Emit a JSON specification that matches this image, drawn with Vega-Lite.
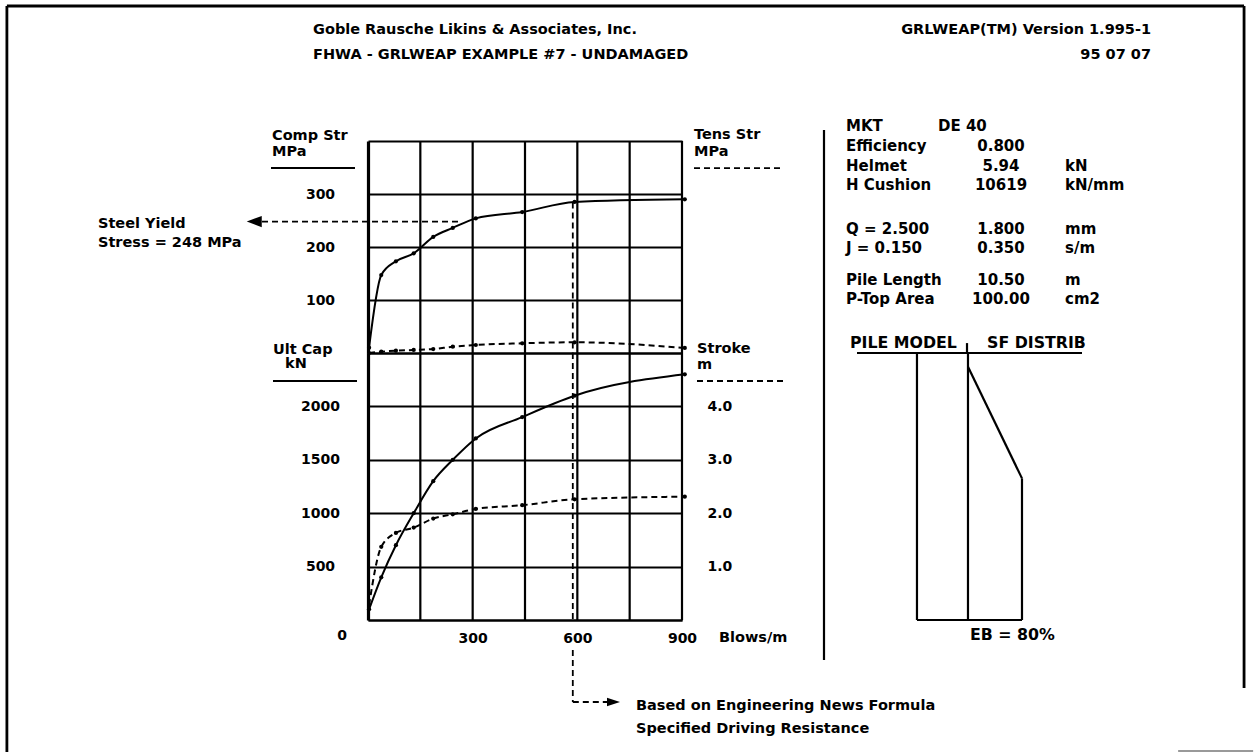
{
  "$schema": "https://vega.github.io/schema/vega-lite/v6.json",
  "width": 314,
  "height": 479,
  "autosize": {"type": "none"},
  "padding": {"left": 368, "top": 141, "right": 574, "bottom": 132},
  "background": "white",
  "config": {
    "view": {"stroke": null},
    "axis": {
      "labelFont": "DejaVu Sans",
      "labelFontWeight": "bold",
      "labelFontSize": 14,
      "labelColor": "black",
      "labelBaseline": "middle",
      "labelFlush": false,
      "labelOverlap": false,
      "ticks": false,
      "tickSize": 0,
      "gridColor": "black",
      "gridOpacity": 1,
      "gridWidth": 2.2,
      "domainColor": "black",
      "domainWidth": 2.2
    }
  },
  "datasets": {
    "perf": [
      {"b": 3, "rult": 100, "stroke": 0.28, "comp": 10, "tens": 0},
      {"b": 38, "rult": 400, "stroke": 1.37, "comp": 147, "tens": 2.5},
      {"b": 80, "rult": 700, "stroke": 1.63, "comp": 173, "tens": 4.3},
      {"b": 131, "rult": 1000, "stroke": 1.73, "comp": 188, "tens": 5.7},
      {"b": 187, "rult": 1300, "stroke": 1.9, "comp": 219, "tens": 7.5},
      {"b": 243, "rult": 1500, "stroke": 1.98, "comp": 236, "tens": 11.9},
      {"b": 309, "rult": 1700, "stroke": 2.08, "comp": 254, "tens": 15.1},
      {"b": 442, "rult": 1900, "stroke": 2.15, "comp": 266, "tens": 18.3},
      {"b": 592, "rult": 2100, "stroke": 2.26, "comp": 285, "tens": 20.2},
      {"b": 908, "rult": 2300, "stroke": 2.31, "comp": 290, "tens": 9.5}
    ],
    "xgrid": [
      {"b": 150}, {"b": 300}, {"b": 450}, {"b": 600}, {"b": 750}, {"b": 900}
    ],
    "mpaLabels": [
      {"t": "Goble Rausche Likins & Associates, Inc.", "b": -157.6, "v": 609.4},
      {"t": "FHWA - GRLWEAP EXAMPLE #7 - UNDAMAGED", "b": -157.6, "v": 562.3},
      {"t": "Comp Str", "b": -275.2, "v": 409.4},
      {"t": "MPa", "b": -275.2, "v": 379.2},
      {"t": "Tens Str", "b": 934.4, "v": 411.3},
      {"t": "MPa", "b": 934.4, "v": 379.2},
      {"t": "Steel Yield", "b": -773.9, "v": 243.4},
      {"t": "Stress = 248 MPa", "b": -773.9, "v": 207.5}
    ],
    "mpaRight": [
      {"t": "GRLWEAP(TM) Version 1.995-1", "b": 2244.3, "v": 609.4},
      {"t": "95 07 07", "b": 2244.3, "v": 562.3}
    ],
    "hammerText": [
      {"t": "MKT", "b": 1370.1, "v": 428.3},
      {"t": "DE 40", "b": 1633.8, "v": 428.3},
      {"t": "Efficiency", "b": 1370.1, "v": 390.6},
      {"t": "Helmet", "b": 1370.1, "v": 352.8},
      {"t": "kN", "b": 1997.8, "v": 352.8},
      {"t": "H Cushion", "b": 1370.1, "v": 317.0},
      {"t": "kN/mm", "b": 1997.8, "v": 317.0},
      {"t": "Q = 2.500", "b": 1370.1, "v": 234.0},
      {"t": "mm", "b": 1997.8, "v": 234.0},
      {"t": "J  = 0.150", "b": 1370.1, "v": 198.1},
      {"t": "s/m", "b": 1997.8, "v": 198.1},
      {"t": "Pile Length", "b": 1370.1, "v": 137.7},
      {"t": "m", "b": 1997.8, "v": 137.7},
      {"t": "P-Top Area", "b": 1370.1, "v": 101.9},
      {"t": "cm2", "b": 1997.8, "v": 101.9}
    ],
    "hammerValues": [
      {"t": "0.800", "b": 1814.3, "v": 390.6},
      {"t": "5.94", "b": 1814.3, "v": 352.8},
      {"t": "10619", "b": 1814.3, "v": 317.0},
      {"t": "1.800", "b": 1814.3, "v": 234.0},
      {"t": "0.350", "b": 1814.3, "v": 198.1},
      {"t": "10.50", "b": 1814.3, "v": 137.7},
      {"t": "100.00", "b": 1814.3, "v": 101.9}
    ],
    "knLabels": [
      {"t": "Ult Cap", "b": -272.3, "v": 2528.1},
      {"t": "kN", "b": -237.9, "v": 2397.0},
      {"t": "Stroke", "b": 943.0, "v": 2537.5},
      {"t": "m", "b": 943.0, "v": 2387.6},
      {"t": "Blows/m", "b": 1006.0, "v": -168.5},
      {"t": "Based on Engineering News Formula", "b": 768.2, "v": -805.2},
      {"t": "Specified Driving Resistance", "b": 768.2, "v": -1020.6}
    ],
    "pileText": [
      {"t": "PILE MODEL", "b": 1381.5, "v": 2593.6},
      {"t": "SF DISTRIB", "b": 1774.2, "v": 2593.6},
      {"t": "EB = 80%", "b": 1725.5, "v": -140.4}
    ],
    "knZero": [
      {"t": "0", "b": -74.5, "v": -149.8}
    ],
    "mpaSolid": [
      {"b": -278.0, "b2": -37.3, "v": 349, "v2": 349}
    ],
    "mpaDash": [
      {"b": 934.4, "b2": 1180.9, "v": 349, "v2": 349},
      {"b": -303.8, "b2": 262, "v": 248, "v2": 248},
      {"b": 587, "b2": 587, "v": 284, "v2": 0}
    ],
    "knSolid": [
      {"b": -272.3, "b2": -31.5, "v": 2237.8, "v2": 2237.8},
      {"b": 1307, "b2": 1307, "v": 4588, "v2": -374.5}
    ],
    "knDash": [
      {"b": 943.0, "b2": 1189.5, "v": 2237.8, "v2": 2237.8},
      {"b": 587, "b2": 587, "v": 2500, "v2": 0},
      {"b": 587, "b2": 587, "v": -280.9, "v2": -767.8},
      {"b": 587, "b2": 687.9, "v": -767.8, "v2": -767.8}
    ],
    "frame": [
      {"b": -1035, "b2": 2511, "v": 5749, "v2": 5749},
      {"b": -1035, "b2": -1035, "v": 5749, "v2": -1400},
      {"b": 2511, "b2": 2511, "v": 5749, "v2": -637}
    ],
    "frameEdge": [
      {"b": 2322, "b2": 2537, "v": -1226, "v2": -1226}
    ],
    "pile": [
      {"b": 1401.6, "b2": 2046.5, "v": 0, "v2": 0},
      {"b": 1716.9, "b2": 1716.9, "v": -0.39, "v2": 0},
      {"b": 1573.5, "b2": 1573.5, "v": 0, "v2": 10.5},
      {"b": 1719.7, "b2": 1719.7, "v": 0, "v2": 10.5},
      {"b": 1719.7, "b2": 1874.5, "v": 0.54, "v2": 4.93},
      {"b": 1874.5, "b2": 1874.5, "v": 4.93, "v2": 10.5},
      {"b": 1573.5, "b2": 1874.5, "v": 10.5, "v2": 10.5}
    ],
    "mpaArrow": [{"b": -326, "v": 248}],
    "knArrow": [{"b": 703.7, "v": -767.8}]
  },
  "encoding": {
    "x": {
      "field": "b",
      "type": "quantitative",
      "scale": {"domain": [0, 900], "nice": false, "zero": false},
      "axis": {
        "orient": "bottom",
        "title": null,
        "values": [0, 150, 300, 450, 600, 750, 900],
        "labelExpr": "(datum.value == 300 || datum.value == 600 || datum.value == 900) ? datum.label : ''",
        "labelPadding": 18,
        "labelAlign": "center",
        "grid": false,
        "domain": true
      }
    }
  },
  "layer": [
    {
      "data": {"name": "xgrid"},
      "mark": {"type": "rule", "color": "black", "strokeWidth": 2.2},
      "encoding": {}
    },
    {
      "data": {"name": "perf"},
      "mark": {"type": "line", "interpolate": "monotone", "color": "black", "strokeWidth": 2, "point": {"filled": true, "fill": "black", "size": 18}},
      "encoding": {
        "y": {
          "field": "comp",
          "type": "quantitative",
          "scale": {"domain": [0, 400], "range": [212, 0], "nice": false, "zero": false},
          "axis": {
            "orient": "left",
            "title": null,
            "values": [0, 100, 200, 300, 400],
            "labelExpr": "(datum.value >= 100 && datum.value <= 300) ? datum.label : ''",
            "labelAlign": "center",
            "labelPadding": 48,
            "grid": true,
            "domain": true,
            "domainWidth": 3.2
          }
        }
      }
    },
    {
      "data": {"name": "perf"},
      "mark": {"type": "line", "interpolate": "monotone", "color": "black", "strokeWidth": 2, "strokeDash": [6, 4], "point": {"filled": true, "fill": "black", "size": 18}},
      "encoding": {
        "y": {"field": "tens", "type": "quantitative", "scale": {"domain": [0, 400], "range": [212, 0], "nice": false, "zero": false}, "axis": null}
      }
    },
    {
      "data": {"name": "perf"},
      "mark": {"type": "line", "interpolate": "monotone", "color": "black", "strokeWidth": 2, "point": {"filled": true, "fill": "black", "size": 18}},
      "encoding": {
        "y": {
          "field": "rult",
          "type": "quantitative",
          "scale": {"domain": [0, 2500], "range": [479, 212], "nice": false, "zero": false},
          "axis": {
            "orient": "left",
            "title": null,
            "values": [0, 500, 1000, 1500, 2000, 2500],
            "labelExpr": "(datum.value >= 500 && datum.value <= 2000) ? datum.label : ''",
            "format": "d",
            "labelAlign": "center",
            "labelPadding": 48,
            "grid": true,
            "domain": true,
            "domainWidth": 3.2
          }
        }
      }
    },
    {
      "data": {"name": "perf"},
      "mark": {"type": "line", "interpolate": "monotone", "color": "black", "strokeWidth": 2, "strokeDash": [6, 4], "point": {"filled": true, "fill": "black", "size": 18}},
      "encoding": {
        "y": {
          "field": "stroke",
          "type": "quantitative",
          "scale": {"domain": [0, 5], "range": [479, 212], "nice": false, "zero": false},
          "axis": {
            "orient": "right",
            "title": null,
            "values": [1, 2, 3, 4],
            "format": ".1f",
            "labelAlign": "left",
            "labelPadding": 25,
            "grid": false,
            "domain": false
          }
        }
      }
    },
    {
      "data": {"name": "mpaSolid"},
      "mark": {"type": "rule", "color": "black", "strokeWidth": 2},
      "encoding": {
        "x2": {"field": "b2"},
        "y": {"field": "v", "type": "quantitative", "scale": {"domain": [0, 400], "range": [212, 0], "nice": false, "zero": false}, "axis": null},
        "y2": {"field": "v2"}
      }
    },
    {
      "data": {"name": "mpaDash"},
      "mark": {"type": "rule", "color": "black", "strokeWidth": 1.8, "strokeDash": [6, 4]},
      "encoding": {
        "x2": {"field": "b2"},
        "y": {"field": "v", "type": "quantitative", "scale": {"domain": [0, 400], "range": [212, 0], "nice": false, "zero": false}, "axis": null},
        "y2": {"field": "v2"}
      }
    },
    {
      "data": {"name": "knSolid"},
      "mark": {"type": "rule", "color": "black", "strokeWidth": 2.2},
      "encoding": {
        "x2": {"field": "b2"},
        "y": {"field": "v", "type": "quantitative", "scale": {"domain": [0, 2500], "range": [479, 212], "nice": false, "zero": false}, "axis": null},
        "y2": {"field": "v2"}
      }
    },
    {
      "data": {"name": "knDash"},
      "mark": {"type": "rule", "color": "black", "strokeWidth": 1.8, "strokeDash": [6, 4]},
      "encoding": {
        "x2": {"field": "b2"},
        "y": {"field": "v", "type": "quantitative", "scale": {"domain": [0, 2500], "range": [479, 212], "nice": false, "zero": false}, "axis": null},
        "y2": {"field": "v2"}
      }
    },
    {
      "data": {"name": "frame"},
      "mark": {"type": "rule", "color": "black", "strokeWidth": 2.8},
      "encoding": {
        "x2": {"field": "b2"},
        "y": {"field": "v", "type": "quantitative", "scale": {"domain": [0, 2500], "range": [479, 212], "nice": false, "zero": false}, "axis": null},
        "y2": {"field": "v2"}
      }
    },
    {
      "data": {"name": "frameEdge"},
      "mark": {"type": "rule", "color": "#777777", "strokeWidth": 1.5},
      "encoding": {
        "x2": {"field": "b2"},
        "y": {"field": "v", "type": "quantitative", "scale": {"domain": [0, 2500], "range": [479, 212], "nice": false, "zero": false}, "axis": null},
        "y2": {"field": "v2"}
      }
    },
    {
      "data": {"name": "pile"},
      "mark": {"type": "rule", "color": "black", "strokeWidth": 2.2},
      "encoding": {
        "x2": {"field": "b2"},
        "y": {"field": "v", "type": "quantitative", "scale": {"domain": [0, 10.5], "range": [212, 479], "nice": false, "zero": false}, "axis": null},
        "y2": {"field": "v2"}
      }
    },
    {
      "data": {"name": "mpaArrow"},
      "mark": {"type": "point", "shape": "M-1,0L1,-0.75L1,0.75Z", "size": 225, "filled": true, "color": "black", "opacity": 1},
      "encoding": {
        "y": {"field": "v", "type": "quantitative", "scale": {"domain": [0, 400], "range": [212, 0], "nice": false, "zero": false}, "axis": null}
      }
    },
    {
      "data": {"name": "knArrow"},
      "mark": {"type": "point", "shape": "M1,0L-1,-0.65L-1,0.65Z", "size": 169, "filled": true, "color": "black", "opacity": 1},
      "encoding": {
        "y": {"field": "v", "type": "quantitative", "scale": {"domain": [0, 2500], "range": [479, 212], "nice": false, "zero": false}, "axis": null}
      }
    },
    {
      "data": {"name": "mpaLabels"},
      "mark": {"type": "text", "align": "left", "baseline": "middle", "font": "DejaVu Sans", "fontWeight": "bold", "fontSize": 14.5, "color": "black"},
      "encoding": {
        "text": {"field": "t"},
        "y": {"field": "v", "type": "quantitative", "scale": {"domain": [0, 400], "range": [212, 0], "nice": false, "zero": false}, "axis": null}
      }
    },
    {
      "data": {"name": "mpaRight"},
      "mark": {"type": "text", "align": "right", "baseline": "middle", "font": "DejaVu Sans", "fontWeight": "bold", "fontSize": 14.5, "color": "black"},
      "encoding": {
        "text": {"field": "t"},
        "y": {"field": "v", "type": "quantitative", "scale": {"domain": [0, 400], "range": [212, 0], "nice": false, "zero": false}, "axis": null}
      }
    },
    {
      "data": {"name": "hammerText"},
      "mark": {"type": "text", "align": "left", "baseline": "middle", "font": "DejaVu Sans", "fontWeight": "bold", "fontSize": 15, "color": "black"},
      "encoding": {
        "text": {"field": "t"},
        "y": {"field": "v", "type": "quantitative", "scale": {"domain": [0, 400], "range": [212, 0], "nice": false, "zero": false}, "axis": null}
      }
    },
    {
      "data": {"name": "hammerValues"},
      "mark": {"type": "text", "align": "center", "baseline": "middle", "font": "DejaVu Sans", "fontWeight": "bold", "fontSize": 15, "color": "black"},
      "encoding": {
        "text": {"field": "t"},
        "y": {"field": "v", "type": "quantitative", "scale": {"domain": [0, 400], "range": [212, 0], "nice": false, "zero": false}, "axis": null}
      }
    },
    {
      "data": {"name": "knLabels"},
      "mark": {"type": "text", "align": "left", "baseline": "middle", "font": "DejaVu Sans", "fontWeight": "bold", "fontSize": 14.5, "color": "black"},
      "encoding": {
        "text": {"field": "t"},
        "y": {"field": "v", "type": "quantitative", "scale": {"domain": [0, 2500], "range": [479, 212], "nice": false, "zero": false}, "axis": null}
      }
    },
    {
      "data": {"name": "pileText"},
      "mark": {"type": "text", "align": "left", "baseline": "middle", "font": "DejaVu Sans", "fontWeight": "bold", "fontSize": 15.8, "color": "black"},
      "encoding": {
        "text": {"field": "t"},
        "y": {"field": "v", "type": "quantitative", "scale": {"domain": [0, 2500], "range": [479, 212], "nice": false, "zero": false}, "axis": null}
      }
    },
    {
      "data": {"name": "knZero"},
      "mark": {"type": "text", "align": "center", "baseline": "middle", "font": "DejaVu Sans", "fontWeight": "bold", "fontSize": 14, "color": "black"},
      "encoding": {
        "text": {"field": "t"},
        "y": {"field": "v", "type": "quantitative", "scale": {"domain": [0, 2500], "range": [479, 212], "nice": false, "zero": false}, "axis": null}
      }
    }
  ],
  "resolve": {"scale": {"y": "independent"}, "axis": {"y": "independent"}}
}
